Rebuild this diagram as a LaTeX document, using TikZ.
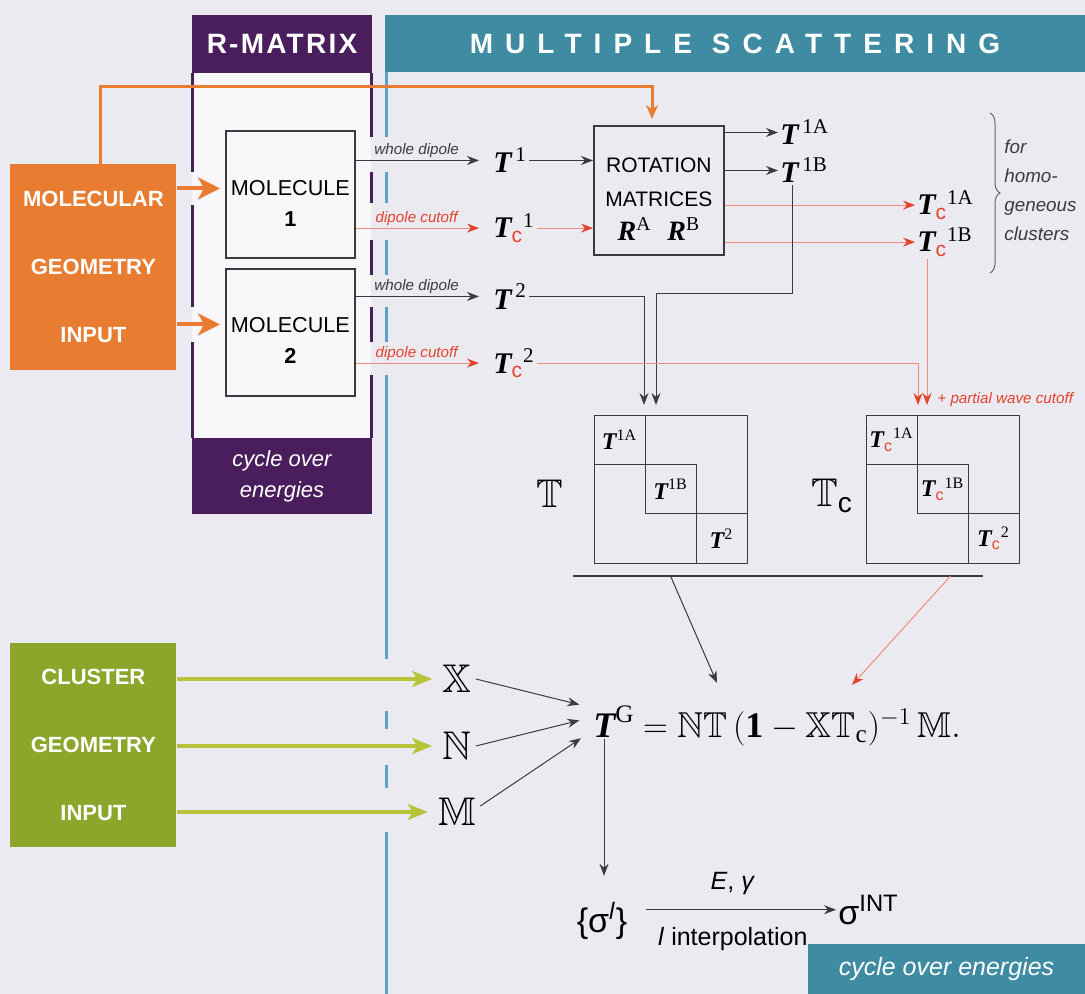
\documentclass[tikz,border=0pt]{standalone}
\usepackage{amsmath,amssymb}
\usepackage{fontspec}
\setmainfont{Liberation Serif}
\setsansfont{Liberation Sans}
\newfontfamily\rmhdfont[LetterSpace=8]{Liberation Sans}
\newfontfamily\mshdfont[LetterSpace=43]{Liberation Sans}
\usetikzlibrary{positioning,arrows.meta,decorations.pathreplacing}

\definecolor{paper}{HTML}{ECEAF1}
\definecolor{rmpurple}{HTML}{4A1D5C}
\definecolor{rmwhite}{HTML}{F7F6F9}
\definecolor{msteal}{HTML}{3E8BA2}
\definecolor{msblue}{HTML}{5E9FCB}
\definecolor{molorange}{HTML}{E87D31}
\definecolor{clugreen}{HTML}{8CA52B}
\definecolor{cluarrow}{HTML}{B7C43A}
\definecolor{cutred}{HTML}{E2432C}
\definecolor{cutline}{HTML}{F08C78}
\definecolor{inkgray}{HTML}{3A3A40}

\newcommand{\Tb}{\text{\normalfont\bfseries\itshape T}}
\newcommand{\Rb}{\text{\normalfont\bfseries\itshape R}}
\newcommand{\up}[1]{\text{\normalfont #1}}
\newcommand{\cc}{\text{\normalfont\sffamily\color{cutred}c}}

\tikzset{%
  hd/.style = {rectangle,anchor=north west,inner sep=0pt,outer sep=0pt,
        text=white,align=center},
  rmline/.style = {draw=rmpurple,line width=1.5pt},
  msline/.style = {draw=msblue,line width=1.5pt},
  inbox/.style = {rectangle,anchor=north west,inner sep=0pt,text=white,align=center,
        minimum width=83pt,minimum height=103pt,
        font=\sffamily\bfseries\fontsize{11}{34}\selectfont},
  mol/.style = {rectangle,draw=inkgray,line width=0.9pt,fill=rmwhite,
        anchor=north west,minimum width=64.5pt,minimum height=63.5pt},
  box/.style = {rectangle,draw=inkgray,line width=0.9pt,anchor=north west,
        minimum width=65pt,minimum height=64.5pt},
  moltext/.style = {align=center,inner sep=0pt,
        font=\sffamily\fontsize{10.8}{15.5}\selectfont},
  tt/.style = {anchor=base west,inner sep=1pt,font=\fontsize{15}{17}\selectfont},
  mat/.style = {rectangle,draw=inkgray,line width=0.5pt,anchor=north west,
        outer sep=0pt,minimum width=76.5pt,minimum height=74.1pt},
  cell/.style = {rectangle,draw=inkgray,line width=0.5pt,anchor=north west,
        inner sep=0pt,outer sep=0pt,minimum width=25.5pt,minimum height=24.7pt,
        font=\fontsize{12}{14}\selectfont},
  onearrow/.style = {-{Stealth[length=6pt,width=4.5pt]},draw=inkgray,line width=0.5pt},
  cutarrow/.style = {-{Stealth[length=6pt,width=4.5pt,color=cutred]},
        draw=cutline,line width=0.5pt},
  orarrow/.style = {-{Stealth[length=11pt,width=11pt,inset=3pt]},
        draw=molorange,line width=2pt},
  orline/.style = {-{Stealth[length=7pt,width=6pt]},draw=molorange,line width=1.5pt},
  grarrow/.style = {-{Stealth[length=10pt,width=8pt,inset=2.5pt]},
        draw=cluarrow,line width=1.6pt},
  wlab/.style = {above,inner sep=1pt,text=inkgray,
        font=\sffamily\itshape\fontsize{7.6}{9}\selectfont},
  clab/.style = {above,inner sep=1pt,text=cutred,
        font=\sffamily\itshape\fontsize{7.6}{9}\selectfont},
  bbl/.style = {inner sep=2pt,font=\fontsize{20}{24}\selectfont},
  eqn/.style = {anchor=base west,inner sep=1pt,font=\fontsize{18}{22}\selectfont},
  sg/.style = {inner sep=1pt,font=\sffamily\fontsize{17}{20}\selectfont},
  homo/.style = {anchor=west,align=left,inner sep=0pt,text=inkgray,
        font=\sffamily\itshape\fontsize{9.4}{14.5}\selectfont},
  brace/.style = {decorate,decoration={brace,amplitude=5pt},draw=gray!80!black,line width=0.5pt},
  rule/.style = {draw=inkgray,line width=0.6pt}
}

\begin{document}
\begin{tikzpicture}[x=0.5pt,y=-0.5pt]
\fill[paper] (0,0) rectangle (1085,994);
\useasboundingbox (0,0) rectangle (1085,994);
\fill[rmwhite] (192,73) rectangle (371,438);

\node[hd,fill=rmpurple,minimum width=90pt,minimum height=29pt,
      font=\rmhdfont\bfseries\fontsize{14}{16}\selectfont] (rmhead) at (192,15) {R-MATRIX};
\node[hd,fill=msteal,minimum width=350pt,minimum height=28.5pt,
      font=\mshdfont\bfseries\fontsize{14}{16}\selectfont] (mshead) at (385,15) {MULTIPLE SCATTERING};
\node[hd,fill=rmpurple,minimum width=90pt,minimum height=38pt,
      font=\sffamily\itshape\fontsize{11}{15.5}\selectfont] (rmfoot) at (192,438) {cycle over\\energies};
\node[hd,fill=msteal,minimum width=138.5pt,minimum height=25pt,
      font=\sffamily\itshape\fontsize{12.5}{15}\selectfont] (msfoot) at (808,944) {cycle over energies};

\draw[rmline] (192,73) -- (192,172) (192,205) -- (192,307) (192,342) -- (192,438);
\draw[rmline] (371,73) -- (371,137) (371,172) -- (371,203) (371,240) -- (371,275)
      (371,307) -- (371,342) (371,375) -- (371,438);
\draw[msline] (386,72) -- (386,137) (386,172) -- (386,203) (386,240) -- (386,275)
      (386,307) -- (386,342) (386,375) -- (386,659) (386,711) -- (386,729)
      (386,765) -- (386,788) (386,832) -- (386,994);

\node[inbox,fill=molorange] (molgeo) at (10,164) {MOLECULAR\\GEOMETRY\\INPUT};
\node[inbox,fill=clugreen,minimum height=102pt] (clugeo) at (10,643) {CLUSTER\\GEOMETRY\\INPUT};

\node[mol] (mol1) at (225,130) {};
\node[mol] (mol2) at (225,268) {};
\node[moltext] (mol1t) at ([yshift=-4.5pt]mol1.center) {MOLECULE\\\textbf{1}};
\node[moltext] (mol2t) at ([yshift=-4pt]mol2.center) {MOLECULE\\\textbf{2}};
\draw[orarrow,shorten >=2.5pt] ([yshift=3pt]mol1.west -| molgeo.east) -- ([yshift=3pt]mol1.west);
\draw[orarrow,shorten >=2.5pt] ([yshift=4pt]mol2.west -| molgeo.east) -- ([yshift=4pt]mol2.west);

\node[box] (rot) at (593,125) {};
\node[moltext,font=\sffamily\fontsize{10.5}{17}\selectfont] (rott) at ([yshift=-4.5pt]rot.center)
      {ROTATION\\MATRICES\\{\fontsize{14}{17}\selectfont$\Rb^{\up{A}}\;\;\Rb^{\up{B}}$}};
\coordinate (orbend) at (652,87);
\draw[orline,shorten >=3pt] ([xshift=45pt]molgeo.north west) |- (orbend) -- (orbend |- rot.north);

\node[tt] (t1) at (491,173) {$\Tb^{\,\up{1}}$};
\node[tt] (tc1) at (491,238) {$\Tb_{\cc}{}^{\up{1}}$};
\node[tt] (t2) at (491,309) {$\Tb^{\,\up{2}}$};
\node[tt] (tc2) at (491,373) {$\Tb_{\cc}{}^{\up{2}}$};
\draw[onearrow,shorten >=6pt] (mol1.east |- t1.west) -- (t1.west) node[wlab,pos=0.45] {whole dipole};
\draw[cutarrow,shorten >=6pt] (mol1.east |- tc1.west) -- (tc1.west) node[clab,pos=0.45] {dipole cutoff};
\draw[onearrow,shorten >=6pt] (mol2.east |- t2.west) -- (t2.west) node[wlab,pos=0.45] {whole dipole};
\draw[cutarrow,shorten >=6pt] (mol2.east |- tc2.west) -- (tc2.west) node[clab,pos=0.45] {dipole cutoff};
\draw[onearrow] (t1.east) -- (t1.east -| rot.west);
\draw[cutarrow] (tc1.east) -- (tc1.east -| rot.west);

\node[tt] (t1a) at (778,145) {$\Tb^{\,\up{1A}}$};
\node[tt] (t1b) at (778,183) {$\Tb^{\,\up{1B}}$};
\node[tt] (tc1a) at (915,215) {$\Tb_{\cc}{}^{\up{1A}}$};
\node[tt] (tc1b) at (915,252) {$\Tb_{\cc}{}^{\up{1B}}$};
\draw[onearrow] (rot.east |- t1a.west) -- (t1a.west);
\draw[onearrow] (rot.east |- t1b.west) -- (t1b.west);
\draw[cutarrow] (rot.east |- tc1a.west) -- (tc1a.west);
\draw[cutarrow] (rot.east |- tc1b.west) -- (tc1b.west);
\draw[brace] (990,113) -- (990,273);
\node[homo] (homog) at (1004,190) {for\\homo-\\geneous\\clusters};

\node[mat] (matT) at (594,415) {};
\node[cell] (mA) at (matT.north west) {$\Tb^{\up{1A}}$};
\node[cell] (mB) at (mA.south east) {$\Tb^{\up{1B}}$};
\node[cell] (m2) at (mB.south east) {$\Tb^{\up{2}}$};
\node[mat] (matTc) at (866,415) {};
\node[cell] (cA) at (matTc.north west) {$\Tb_{\cc}{}^{\up{1A}}$};
\node[cell] (cB) at (cA.south east) {$\Tb_{\cc}{}^{\up{1B}}$};
\node[cell] (c2) at (cB.south east) {$\Tb_{\cc}{}^{\up{2}}$};
\node[bbl] (lblT) at (550,494) {$\mathbb{T}$};
\node[bbl] (lblTc) at (832,496) {$\mathbb{T}_{\text{\normalfont\sffamily c}}$};

\coordinate (tbjoin) at (656,294);
\draw[onearrow,shorten >=5pt] ([xshift=7pt]t1b.south west) |- (tbjoin) -- (tbjoin |- mA.north);
\draw[onearrow,shorten >=5pt] (t2.east) -| ([xshift=-0.5pt]mA.north east);
\draw[cutarrow,shorten >=5pt] ([xshift=6pt]tc1b.south west) -- ([xshift=6pt]tc1b.south west |- cA.north);
\draw[cutarrow,shorten >=5pt] (tc2.east) -| ([xshift=0.5pt]cA.north east);
\node[clab,anchor=west] (pwc) at (935,400) {+ partial wave cutoff};

\coordinate (ruleL) at (573,576);
\coordinate (ruleR) at (983,576);
\draw[rule] (ruleL) -- (ruleR);

\node[bbl] (bbX) at (457,679) {$\mathbb{X}$};
\node[bbl] (bbN) at (457,746) {$\mathbb{N}$};
\node[bbl] (bbM) at (457,812) {$\mathbb{M}$};
\draw[grarrow,shorten >=3pt] (clugeo.east |- bbX.west) -- (bbX.west);
\draw[grarrow,shorten >=3pt] (clugeo.east |- bbN.west) -- (bbN.west);
\draw[grarrow,shorten >=3pt] (clugeo.east |- bbM.west) -- (bbM.west);

\node[eqn] (tg) at (591,737) {$\Tb^{\up{G}}$};
\node[eqn,xshift=-3pt] (eqr) at (tg.base east) {${}=\mathbb{N}\mathbb{T}\,(\mathbf{1}-\mathbb{X}\mathbb{T}_{\mathrm{c}})^{-1}\,\mathbb{M}.$};
\coordinate (toT) at (717,683);
\coordinate (toTc) at (852,685);
\draw[onearrow] (matT.south |- ruleL) -- (toT);
\draw[cutarrow] ([xshift=4pt]matTc.south |- ruleL) -- (toTc);
\draw[onearrow,shorten >=6pt] (bbX.east) -- ([yshift=7pt]tg.west);
\draw[onearrow,shorten >=6pt] (bbN.east) -- ([yshift=2pt]tg.west);
\draw[onearrow,shorten >=6pt] ([yshift=3pt]bbM.east) -- ([yshift=-5pt]tg.west);

\node[sg,anchor=base] (sig) at (602,932) {\{σ\textsuperscript{\textit{l}}\}};
\node[sg,anchor=base west] (sint) at (836,924) {σ\textsuperscript{INT}};
\draw[onearrow,shorten >=12pt] ([xshift=6.5pt]tg.south west) -- ([xshift=6.5pt]tg.south west |- sig.north);
\draw[onearrow,shorten <=8pt] (sig.east |- sint.west) -- (sint.west)
      node[midway,above=4pt,font=\sffamily\fontsize{12.5}{15}\selectfont] {\textit{E}, \textit{γ}}
      node[midway,below=5pt,font=\sffamily\fontsize{12.5}{15}\selectfont] {\textit{l} interpolation};
\end{tikzpicture}
\end{document}
